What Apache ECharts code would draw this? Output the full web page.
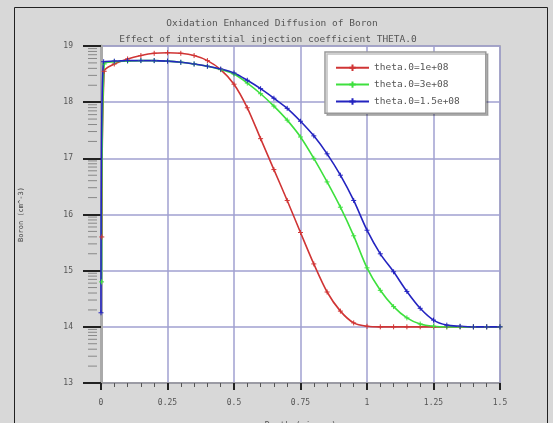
<!DOCTYPE html>
<html><head><meta charset="utf-8">
<script src="https://cdn.jsdelivr.net/npm/echarts@6/dist/echarts.min.js"></script>
<style>html,body{margin:0;padding:0;background:#fff}#c{width:553px;height:423px}</style>
</head><body><div id="c"></div>
<script>
var titleText = 'Oxidation Enhanced Diffusion of Boron';
var subtitleText = 'Effect of interstitial injection coefficient THETA.0';
var xTicks = ['0','0.25','0.5','0.75','1','1.25','1.5'];
var yTicks = ['13','14','15','16','17','18','19'];
var seriesNames = ['theta.0=1e+08','theta.0=3e+08','theta.0=1.5e+08'];
var logMinor = [0.301,0.477,0.602,0.699,0.778,0.845,0.903,0.954];

var xRed = [0.003,0.012,0.05,0.1,0.15,0.2,0.25,0.3,0.35,0.4,0.45,0.5,0.55,0.6,0.65,0.7,0.75,0.8,0.85,0.9,0.95,1.0,1.05,1.1,1.15,1.2,1.25,1.3,1.35,1.4,1.45,1.5];
var yRed = [15.6,18.55,18.68,18.77,18.83,18.87,18.88,18.87,18.83,18.74,18.58,18.32,17.9,17.35,16.8,16.25,15.68,15.12,14.62,14.28,14.07,14.01,14.0,14.0,14.0,14.0,14.0,14.0,14.0,14.0,14.0,14.0];

var xGreen = [0.002,0.012,0.05,0.1,0.15,0.2,0.25,0.3,0.35,0.4,0.45,0.5,0.55,0.6,0.65,0.7,0.75,0.8,0.85,0.9,0.95,1.0,1.05,1.1,1.15,1.2,1.25,1.3,1.35,1.4,1.45,1.5];
var yGreen = [14.8,18.68,18.72,18.73,18.74,18.74,18.73,18.71,18.68,18.64,18.58,18.5,18.34,18.15,17.93,17.68,17.38,17.0,16.58,16.13,15.62,15.05,14.65,14.36,14.16,14.05,14.01,14.0,14.0,14.0,14.0,14.0];

var xBlue = [0,0.01,0.05,0.1,0.15,0.2,0.25,0.3,0.35,0.4,0.45,0.5,0.55,0.6,0.65,0.7,0.75,0.8,0.85,0.9,0.95,1.0,1.05,1.1,1.15,1.2,1.25,1.3,1.35,1.4,1.45,1.5];
var yBlue = [14.25,18.72,18.73,18.74,18.74,18.74,18.73,18.71,18.68,18.64,18.59,18.52,18.39,18.24,18.07,17.89,17.66,17.4,17.08,16.7,16.25,15.72,15.3,14.98,14.63,14.33,14.12,14.03,14.01,14.0,14.0,14.0];

function pairs(xs, ys){ return xs.map(function(x,i){ return [x, ys[i]]; }); }
var minorVals = [];
for (var d = 13; d < 19; d++) { logMinor.forEach(function(m){ minorVals.push([0, d + m]); }); }

var mono = 'DejaVu Sans Mono';
var plus = 'path://M0,5L10,5M5,0L5,10';
function lineSeries(name, data, color){
  return {
    name: name, type: 'line', data: data, smooth: 0.3,
    symbol: plus, symbolSize: 5, showSymbol: true,
    lineStyle: {color: color, width: 1.6},
    itemStyle: {color: 'none', borderColor: color, borderWidth: 1},
    z: 3
  };
}

var chart = echarts.init(document.getElementById('c'), null, {renderer: 'canvas'});
chart.setOption({
  backgroundColor: '#d8d8d8',
  animation: false,
  title: [
    {text: titleText, left: 267, top: 14, textAlign: 'center',
     textStyle: {fontFamily: mono, fontSize: 9.5, fontWeight: 'normal', color: '#555'}},
    {text: subtitleText, left: 263, top: 30, textAlign: 'center',
     textStyle: {fontFamily: mono, fontSize: 9.5, fontWeight: 'normal', color: '#555'}}
  ],
  graphic: [{type: 'rect', shape: {x: 14.5, y: 7.5, width: 533, height: 430}, style: {fill: 'none', stroke: '#222', lineWidth: 1}, silent: true}],
  legend: {
    data: seriesNames, orient: 'vertical', left: 325, top: 52,
    padding: [10, 26, 6, 10], itemGap: 5.5, itemWidth: 33, itemHeight: 8,
    backgroundColor: '#fff', borderColor: '#999', borderWidth: 1.5,
    shadowColor: 'rgba(0,0,0,0.25)', shadowOffsetX: 2, shadowOffsetY: 2,
    textStyle: {fontFamily: mono, fontSize: 9.5, color: '#555'}
  },
  grid: {left: 101, right: 53, top: 46, bottom: 40, outerBoundsMode: 'none', containLabel: false,
         show: true, backgroundColor: '#fff', borderColor: '#999', borderWidth: 1.5},
  xAxis: {
    type: 'value', min: 0, max: 1.5, interval: 0.25,
    name: 'Depth (micron)', nameLocation: 'middle', nameGap: 38,
    nameTextStyle: {fontFamily: mono, fontSize: 8.5, color: '#555'},
    axisLine: {lineStyle: {color: '#999', width: 1.5}},
    axisTick: {length: 7, lineStyle: {color: '#222', width: 2}},
    minorTick: {show: true, splitNumber: 5, length: 4, lineStyle: {color: '#555', width: 1}},
    axisLabel: {margin: 16, fontFamily: mono, fontSize: 8, color: '#555',
      formatter: function(v){ var i = Math.round(v / 0.25); return xTicks[i] !== undefined ? xTicks[i] : ''; }},
    splitLine: {show: true, lineStyle: {color: '#a0a0d0', width: 1.5}}
  },
  yAxis: {
    type: 'value', min: 13, max: 19, interval: 1,
    name: 'Boron (cm^-3)', nameLocation: 'middle', nameGap: 76, nameRotate: 90,
    nameTextStyle: {fontFamily: mono, fontSize: 7, color: '#444'},
    axisLine: {show: true, lineStyle: {color: '#aaa', width: 3}},
    axisTick: {length: 18, lineStyle: {color: '#222', width: 2}},
    axisLabel: {margin: 28, fontFamily: mono, fontSize: 8, color: '#555',
      formatter: function(v){ return yTicks[Math.round(v - 13)]; }},
    splitLine: {show: true, lineStyle: {color: '#a0a0d0', width: 1.5}}
  },
  series: [
    lineSeries(seriesNames[0], pairs(xRed, yRed), '#d03535'),
    lineSeries(seriesNames[1], pairs(xGreen, yGreen), '#3ee03e'),
    lineSeries(seriesNames[2], pairs(xBlue, yBlue), '#2424c0'),
    {
      type: 'custom', silent: true, clip: false, z: 1, data: minorVals,
      renderItem: function(params, api){
        var p = api.coord([api.value(0), api.value(1)]);
        return {type: 'line', shape: {x1: p[0] - 13, y1: p[1], x2: p[0] - 4, y2: p[1]},
                style: {stroke: '#888', lineWidth: 1}};
      }
    }
  ]
});
</script></body></html>
